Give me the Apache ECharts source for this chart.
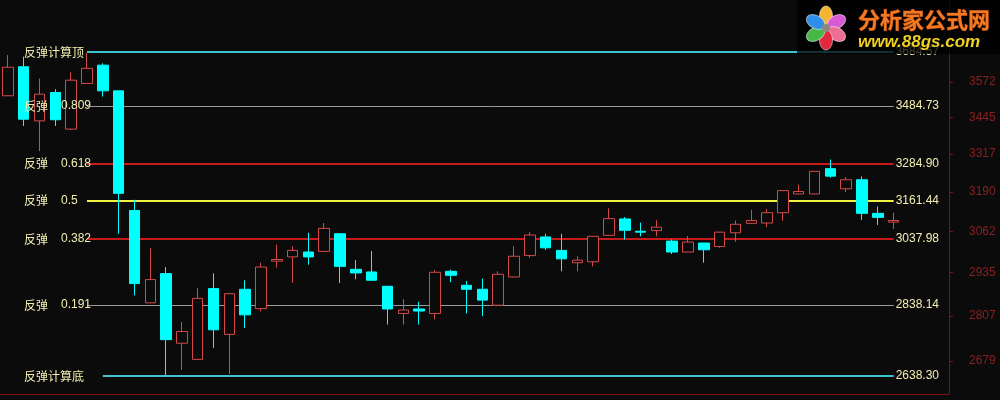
<!DOCTYPE html>
<html><head><meta charset="utf-8">
<script src="https://cdn.jsdelivr.net/npm/echarts@6/dist/echarts.min.js"></script>
<style>html,body{margin:0;padding:0;background:#0b0b0b}#c{width:1000px;height:400px}</style>
</head><body><div id="c"></div>
<script>
const categories = ['1','2','3','4','5','6','7','8','9','10','11','12','13','14','15','16','17','18','19','20',
'21','22','23','24','25','26','27','28','29','30','31','32','33','34','35','36','37','38','39','40',
'41','42','43','44','45','46','47','48','49','50','51','52','53','54','55','56','57','58','59','60'];
const openVals = [3522,3629,3432,3534,3403,3567,3635,3540,3129,2845,
2932,2729,2684,2887,2754,2885,2828,2970,2983,2998,
3000,3055,2945,2937,2894,2814,2827,2814,2939,2897,
2885,2838,2922,2987,3045,3003,2965,2968,3050,3102,
3063,3065,3032,2998,3026,3015,3058,3088,3089,3122,
3183,3183,3267,3200,3230,3120,3092];
const closeVals = [3627,3438,3528,3436,3579,3623,3540,3185,2902,2914,
2739,2762,2858,2767,2872,2810,2952,2975,3003,2983,
3072,2954,2934,2912,2827,2824,2821,2936,2927,2885,
2853,2930,2985,3051,3011,2977,2973,3047,3103,3066,
3060,3076,2998,3029,3005,3060,3085,3097,3122,3194,
3191,3258,3242,3230,3120,3107,3097];
const lowVals = [3521,3414,3327,3414,3400,3566,3519,3055,2867,2844,
2641,2655,2683,2716,2644,2772,2820,2950,2904,2959,
2998,2904,2915,2911,2782,2782,2782,2797,2906,2814,
2806,2837,2921,2980,3004,2939,2939,2954,3049,3037,
3047,3047,2992,2997,2965,3011,3030,3087,3076,3096,
3182,3182,3237,3189,3099,3083,3070];
const highVals = [3673,3667,3585,3546,3608,3681,3642,3541,3164,3010,
2952,2789,2888,2933,2874,2912,2965,3021,3016,3058,
3089,3056,2973,3001,2895,2856,2848,2943,2944,2910,
2917,2939,3016,3060,3055,3055,2985,3048,3136,3108,
3090,3098,3037,3048,3026,3061,3097,3131,3134,3195,
3214,3259,3298,3239,3241,3142,3122];
const fibValues = [3684.57, 3484.73, 3284.90, 3161.44, 3037.98, 2838.14, 2638.30];
const fibNames = ['反弹计算顶','反弹','反弹','反弹','反弹','反弹','反弹计算底'];
const fibRatios = ['', '0.809', '0.618', '0.5', '0.382', '0.191', ''];
const axisTickValues = [3572, 3445, 3317, 3190, 3062, 2935, 2807, 2679];

const yMin = 2589.8, yMax = 3887.5;
const levelColor = ['#3ec4cc','#9a9a9a','#c81c1c','#f0f040','#c81c1c','#9a9a9a','#3ec4cc'];
const levelWidth = [2,1,2,2,2,1,2];
const txtColor = '#f2eeb0';
const axisRed = '#7a1212';

const candles = openVals.map((o,i)=>[o, closeVals[i], lowVals[i], highVals[i]]);
const lastIdx = openVals.length - 1;
const markData = fibValues.map((v,i)=>[
  {coord:[categories[i === 6 ? 6 : 5], v],
   lineStyle:{color:levelColor[i], width:levelWidth[i], type:'solid'},
   label:{show:true, position:'end', distance:2, formatter:v.toFixed(2), color:txtColor, fontSize:12, fontFamily:'Liberation Sans'}},
  {coord:[categories[lastIdx], v]}
]);

const chart = echarts.init(document.getElementById('c'), null, {renderer:'canvas'});
const petals = [
  {a:0, c:'#f6b530'},{a:60, c:'#d95ad6'},{a:120, c:'#ee6f94'},
  {a:180, c:'#e2283d'},{a:240, c:'#45b848'},{a:300, c:'#2f8fe8'}
];
const cx = 826, cy = 28;
const graphics = [
  {type:'rect', shape:{x:797,y:0,width:203,height:54}, style:{fill:'rgba(0,0,0,0.75)'}, z:100}
];
petals.forEach(p=>{
  const r = p.a*Math.PI/180;
  graphics.push({type:'ellipse', shape:{cx:cx+Math.sin(r)*12, cy:cy-Math.cos(r)*12, rx:6.5, ry:10},
    rotation:-r, originX:cx+Math.sin(r)*12, originY:cy-Math.cos(r)*12,
    style:{fill:p.c, stroke:'rgba(255,255,255,0.5)', lineWidth:1}, z:101});
});
graphics.push({type:'circle', shape:{cx:cx, cy:cy, r:4}, style:{fill:'#8a8a7a'}, z:102});
graphics.push({type:'text', x:858, y:20, style:{text:'分析家公式网', font:'bold 22px "Noto Sans CJK SC"',
  verticalAlign:'middle', fill:'#f47a22', stroke:'#7a2a08', lineWidth:1}, z:102});
graphics.push({type:'text', x:858, y:42, style:{text:'www.88gs.com', font:'italic bold 17px "Liberation Sans"',
  verticalAlign:'middle', fill:'#f0d020'}, z:102});

chart.setOption({
  backgroundColor:'#0b0b0b',
  animation:false,
  grid:{left:-1, right:51, top:0, bottom:6},
  xAxis:{type:'category', data:categories, boundaryGap:true,
    axisLine:{show:true, lineStyle:{color:axisRed}}, axisTick:{show:false}, axisLabel:{show:false}, splitLine:{show:false}},
  yAxis:[
    {type:'log', position:'right', min:yMin, max:yMax,
     axisLine:{show:true, lineStyle:{color:axisRed}},
     axisTick:{show:true, length:4, customValues:axisTickValues, lineStyle:{color:axisRed}},
     axisLabel:{customValues:axisTickValues, margin:20, color:'#8a2020', fontSize:12, fontFamily:'Liberation Sans',
       formatter:function(v){ return String(Math.round(v)); }},
     splitLine:{show:false}, minorTick:{show:false}},
    {type:'log', position:'left', min:yMin, max:yMax, z:10,
     axisLine:{show:false}, axisTick:{show:false}, splitLine:{show:false},
     axisLabel:{inside:true, margin:24, customValues:fibValues,
       formatter:function(v){
         const i = fibValues.findIndex(f=>Math.abs(f-v)<0.5);
         if (i < 0) return '';
         return fibRatios[i] ? '{n|'+fibNames[i]+'}{r|'+fibRatios[i]+'}' : '{n|'+fibNames[i]+'}';
       },
       rich:{
         n:{width:37, color:txtColor, fontSize:12, fontFamily:'Noto Sans CJK SC'},
         r:{color:txtColor, fontSize:12, fontFamily:'Liberation Sans'}
       }}}
  ],
  series:[{
    type:'candlestick', data:candles, xAxisIndex:0, yAxisIndex:0, barWidth:11, z:3,
    itemStyle:{color:'#0b0b0b', color0:'#00ffff', borderColor:'#d44a4a', borderColor0:'#00ffff', borderWidth:1},
    emphasis:{disabled:true},
    markLine:{silent:true, symbol:'none', z:1, animation:false, data:markData}
  }],
  graphic:graphics
});
</script></body></html>
